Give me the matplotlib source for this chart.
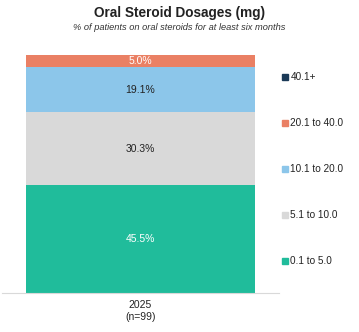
import matplotlib.pyplot as plt
from matplotlib.lines import Line2D

plt.rcParams['font.family'] = ['Liberation Sans', 'DejaVu Sans']

categories = ['0.1 to 5.0', '5.1 to 10.0', '10.1 to 20.0', '20.1 to 40.0', '40.1+']
values = [45.5, 30.3, 19.1, 5.0, 0.0]
colors = ['#20bc9b', '#d9d9d9', '#8cc6ea', '#ea8064', '#1b3a57']
label_colors = ['white', '#222222', '#222222', 'white', 'white']
group_label = '2025\n(n=99)'

fig = plt.figure(figsize=(3.59, 3.32), dpi=100)
ax = fig.add_axes([2 / 359, 1 - 293 / 332, 277 / 359, (293 - 55) / 332])

bottom = 0
for cat, v, c, lc in zip(categories, values, colors, label_colors):
    ax.bar(0, v, bottom=bottom, width=0.827, color=c, label=cat)
    if v > 0:
        ax.text(0, bottom + v / 2, f'{v:.1f}%', ha='center', va='center',
                color=lc, fontsize=7.5)
    bottom += v

ax.set_xlim(-0.5, 0.5)
ax.set_ylim(0, sum(values))
ax.set_yticks([])
ax.set_xticks([0])
ax.set_xticklabels([group_label], fontsize=7.5, color='#222222')
ax.tick_params(axis='x', length=0, pad=5)
for s in ['top', 'right', 'left']:
    ax.spines[s].set_visible(False)
ax.spines['bottom'].set_color('#d9d9d9')
ax.spines['bottom'].set_linewidth(0.8)

handles = [Line2D([], [], marker='s', linestyle='none', markersize=4,
                  color=c) for c in colors]
leg = fig.legend(handles[::-1], categories[::-1], loc='upper left',
                 bbox_to_anchor=(275 / 359, 1 - 67 / 332), frameon=False,
                 fontsize=7.2, labelspacing=3.6, handletextpad=0.05,
                 handlelength=1.0, borderpad=0)
for t in leg.get_texts():
    t.set_color('#222222')

fig.text(0.5, 1 - 13 / 332, 'Oral Steroid Dosages (mg)', ha='center',
         va='center', fontsize=9.8, fontweight='bold', color='#222222')
fig.text(0.5, 1 - 27 / 332, '% of patients on oral steroids for at least six months',
         ha='center', va='center', fontsize=6.7, style='italic', color='#333333')

fig.savefig('out.png', dpi=100)
